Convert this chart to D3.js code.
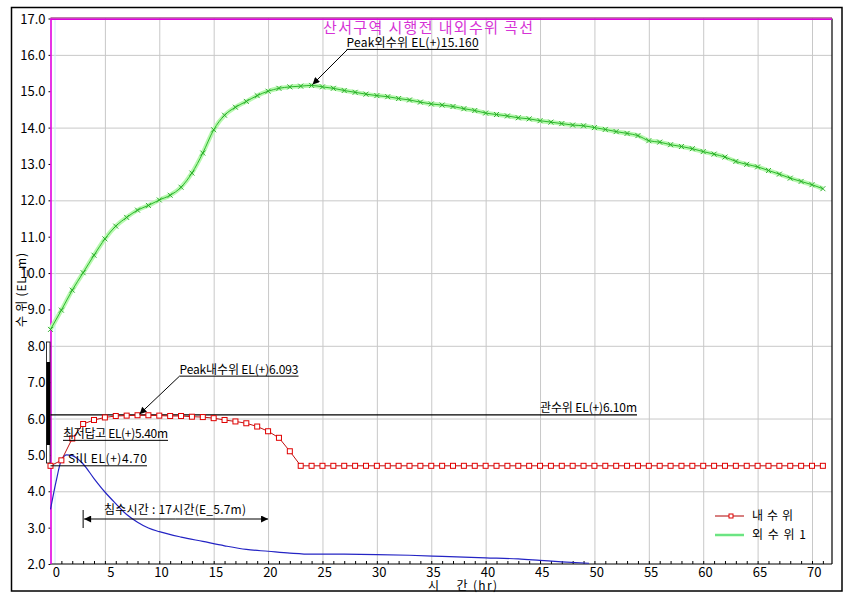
<!DOCTYPE html>
<html><head><meta charset="utf-8">
<script src="https://cdn.jsdelivr.net/npm/d3@7/dist/d3.min.js"></script>
<style>body{margin:0;background:#fff}text{font-family:"Noto Sans CJK KR","Noto Sans",sans-serif}</style>
</head><body>
<svg id="c" width="863" height="602"></svg>
<script>
// ---- data ----
const hours = [0,1,2,3,4,5,6,7,8,9,10,11,12,13,14,15,16,17,18,19,20,21,22,23,24,25,26,27,28,29,30,31,32,33,34,35,36,37,38,39,40,41,42,43,44,45,46,47,48,49,50,51,52,53,54,55,56,57,58,59,60,61,62,63,64,65,66,67,68,69,70,71];
const outerLevel = [8.45,8.98,9.53,10.01,10.49,10.94,11.29,11.53,11.73,11.86,12.01,12.14,12.36,12.75,13.30,13.94,14.34,14.56,14.72,14.88,15.00,15.08,15.12,15.14,15.16,15.12,15.08,15.02,14.97,14.92,14.88,14.85,14.80,14.76,14.70,14.65,14.62,14.58,14.52,14.47,14.40,14.36,14.32,14.27,14.24,14.19,14.15,14.11,14.07,14.05,14.00,13.95,13.89,13.84,13.78,13.64,13.60,13.53,13.48,13.42,13.34,13.27,13.19,13.07,12.99,12.92,12.82,12.72,12.61,12.52,12.43,12.32];
const innerLevel = [4.70,4.85,5.45,5.85,5.96,6.03,6.07,6.08,6.09,6.09,6.08,6.07,6.07,6.05,6.04,6.01,5.96,5.92,5.87,5.78,5.65,5.47,5.10,4.70,4.70,4.70,4.70,4.70,4.70,4.70,4.70,4.70,4.70,4.70,4.70,4.70,4.70,4.70,4.70,4.70,4.70,4.70,4.70,4.70,4.70,4.70,4.70,4.70,4.70,4.70,4.70,4.70,4.70,4.70,4.70,4.70,4.70,4.70,4.70,4.70,4.70,4.70,4.70,4.70,4.70,4.70,4.70,4.70,4.70,4.70,4.70,4.70];
const blueTime = [0,0.5,1,1.5,2,3,4,5,6,7,8,9,10,12,14,16,18,20,22,24,26,30,33,36,40,43,45,47,49.5];
const blueLevel = [3.50,4.25,4.85,5.00,4.98,4.75,4.35,3.98,3.66,3.36,3.15,2.99,2.89,2.74,2.62,2.50,2.40,2.35,2.30,2.27,2.27,2.26,2.24,2.21,2.17,2.14,2.10,2.06,2.02];
const xTickLabels = [0,5,10,15,20,25,30,35,40,45,50,55,60,65,70];
const xGrid = [5,10,15,20,25,30,35,40,45,50,55,60,65,70];
const yTickLabels = [2,3,4,5,6,7,8,9,10,11,12,13,14,15,16,17];
const yGrid = [4,6,8,10,12,14,16];
const seriesNames = ["내 수 위","외 수 위 1"];
const title = "산서구역 시행전 내외수위 곡선";
const xTitle = "시    간 (hr)";
const yTitle = "수 위 (EL_m)";
const peakOuter = {t:24, v:15.16, label:"Peak외수위 EL(+)15.160"};
const peakInner = {t:8, v:6.093, label:"Peak내수위 EL(+)6.093"};
const refLine = {v:6.10, label:"관수위 EL(+)6.10m"};
const lowField = {v:5.40, label:"최저답고 EL(+)5.40m"};
const sill = {v:4.70, label:"Sill EL(+)4.70"};
const flood = {t0:3, t1:20, label:"침수시간 : 17시간(E_5.7m)"};

// ---- chart ----
const svg = d3.select("#c");
const L=50.5, R=832, T=18.5, B=564;
const x = d3.scaleLinear().domain([0,70]).range([L,812]);
const y = d3.scaleLinear().domain([2,17]).range([B,T]);

const defs = svg.append("defs");
defs.append("marker").attr("id","ah").attr("viewBox","0 0 10 10").attr("refX",10).attr("refY",5)
  .attr("markerWidth",9).attr("markerHeight",7).attr("markerUnits","userSpaceOnUse").attr("orient","auto")
  .append("path").attr("d","M0,0L10,5L0,10z").attr("fill","#000");

svg.append("rect").attr("x",11.5).attr("y",7.5).attr("width",830.5).attr("height",583.5)
  .attr("fill","none").attr("stroke","#000").attr("stroke-width",1.5);

// grid
const gx = svg.append("g").attr("transform",`translate(0,${B})`)
  .call(d3.axisBottom(x).tickValues(xGrid).tickSize(-(B-T)).tickFormat(""));
gx.select(".domain").remove();
gx.selectAll("line").attr("stroke","#c8c8c8");
const gy = svg.append("g").attr("transform",`translate(${L},0)`)
  .call(d3.axisLeft(y).tickValues(yGrid).tickSize(-(R-L)).tickFormat(""));
gy.select(".domain").remove();
gy.selectAll("line").attr("stroke","#c8c8c8");

// minor ticks
const mt = svg.append("g").attr("transform",`translate(0,${B})`)
  .call(d3.axisTop(x).tickValues(hours.filter(h=>h>0)).tickSize(3).tickFormat(""));
mt.select(".domain").remove();
mt.selectAll("line").attr("stroke","#000");

// x labels (right-aligned just past each tick, like the original)
const xl = svg.append("g").attr("transform",`translate(9,${B})`)
  .call(d3.axisBottom(x).tickValues(xTickLabels).tickSize(0).tickPadding(4).tickFormat(d3.format("d")));
xl.select(".domain").remove();
xl.selectAll("text").attr("text-anchor","end").attr("font-size",13).attr("fill","#000").style("font-family","'Noto Sans CJK KR'");

// y labels
const yl = svg.append("g").attr("transform",`translate(${L},0)`)
  .call(d3.axisLeft(y).tickValues(yTickLabels).tickSize(2).tickPadding(3).tickFormat(d3.format(".1f")));
yl.select(".domain").remove();
yl.selectAll("line").attr("stroke","#000");
yl.selectAll("text").attr("font-size",13).attr("fill","#000").attr("dy","0.35em").style("font-family","'Noto Sans CJK KR'");

// faint cyan guide
svg.append("line").attr("x1",L+4.5).attr("x2",L+4.5).attr("y1",T).attr("y2",B).attr("stroke","#cdeefa").attr("stroke-width",1);

// plot borders
svg.append("line").attr("x1",L).attr("x2",R).attr("y1",B).attr("y2",B).attr("stroke","#000").attr("stroke-width",1.2);
svg.append("line").attr("x1",R).attr("x2",R).attr("y1",T).attr("y2",B).attr("stroke","#000").attr("stroke-width",1.2);
svg.append("line").attr("x1",L).attr("x2",R).attr("y1",T-0.5).attr("y2",T-0.5).attr("stroke","#7a0050").attr("stroke-width",1);
svg.append("line").attr("x1",L).attr("x2",R).attr("y1",T+0.7).attr("y2",T+0.7).attr("stroke","#e000e0").attr("stroke-width",1.4);
svg.append("line").attr("x1",L+0.5).attr("x2",L+0.5).attr("y1",T).attr("y2",B).attr("stroke","#e000e0").attr("stroke-width",1.6);

// black side bar
svg.append("rect").attr("x",46.5).attr("y",342).attr("width",3.5).attr("height",121).attr("fill","#fff").attr("stroke","#000").attr("stroke-width",0.8);
svg.append("rect").attr("x",46.5).attr("y",362).attr("width",3.5).attr("height",83).attr("fill","#000");

// title
svg.append("text").attr("x",323).attr("y",32.5).attr("font-size",15).attr("fill","#d633d6")
  .attr("textLength",210).attr("lengthAdjust","spacing").text(title);

// axis titles
svg.append("text").attr("transform","translate(26,327) rotate(-90)").attr("font-size",12)
  .attr("xml:space","preserve").attr("textLength",74).attr("lengthAdjust","spacing").text(yTitle);
svg.append("text").attr("x",428).attr("y",590).attr("font-size",12).attr("xml:space","preserve")
  .attr("textLength",69).attr("lengthAdjust","spacing").text(xTitle);

// reference line
const rl = y(refLine.v);
svg.append("line").attr("x1",L).attr("x2",637).attr("y1",rl).attr("y2",rl).attr("stroke","#000").attr("stroke-width",1.1);
svg.append("text").attr("x",540).attr("y",rl-3).attr("font-size",12)
  .attr("textLength",97).attr("lengthAdjust","spacing").text(refLine.label);

// blue line
svg.append("path").datum(blueTime.map((t,i)=>[t,blueLevel[i]]))
  .attr("d",d3.line().x(d=>x(d[0])).y(d=>y(d[1])).curve(d3.curveMonotoneX))
  .attr("fill","none").attr("stroke","#2424c4").attr("stroke-width",1.2);

// green line
const gdat = hours.map((t,i)=>[t,outerLevel[i]]);
const gline = d3.line().x(d=>x(d[0])).y(d=>y(d[1])).curve(d3.curveMonotoneX);
svg.append("path").datum(gdat).attr("d",gline).attr("fill","none").attr("stroke","#b8f8b0").attr("stroke-width",4.5);
svg.append("path").datum(gdat).attr("d",gline).attr("fill","none").attr("stroke","#2cb82c").attr("stroke-width",1);
svg.append("g").selectAll("path").data(gdat).join("path")
  .attr("d",d=>{const cx=x(d[0]),cy=y(d[1]);return `M${cx-2.5},${cy-2.5}L${cx+2.5},${cy+2.5}M${cx-2.5},${cy+2.5}L${cx+2.5},${cy-2.5}`;})
  .attr("stroke","#22a822").attr("stroke-width",0.9);

// red line
const rdat = hours.map((t,i)=>[t,innerLevel[i]]);
svg.append("path").datum(rdat).attr("d",d3.line().x(d=>x(d[0])).y(d=>y(d[1])))
  .attr("fill","none").attr("stroke","#c01010").attr("stroke-width",1);
svg.append("g").selectAll("rect").data(rdat).join("rect")
  .attr("x",d=>x(d[0])-2.5).attr("y",d=>y(d[1])-2.5).attr("width",5).attr("height",5)
  .attr("fill","#fff").attr("stroke","#e00000").attr("stroke-width",1);

// annotation helper
function underlined(tx, ty, txt, x0, x1){
  svg.append("text").attr("x",tx).attr("y",ty).attr("font-size",12).attr("xml:space","preserve")
    .attr("textLength",x1-x0).attr("lengthAdjust","spacing").text(txt);
  svg.append("line").attr("x1",x0).attr("x2",x1).attr("y1",ty+2.5).attr("y2",ty+2.5).attr("stroke","#000").attr("stroke-width",1);
}
// peak outer
{
  const px=x(peakOuter.t), py=y(peakOuter.v);
  underlined(px+35, py-38.5, peakOuter.label, px+35, px+167);
  svg.append("line").attr("x1",px+36).attr("y1",py-36).attr("x2",px+1).attr("y2",py-1).attr("stroke","#000").attr("marker-end","url(#ah)");
}
// peak inner
{
  const px=x(peakInner.t), py=y(peakInner.v);
  underlined(px+42, py-41.5, peakInner.label, px+42, px+161);
  svg.append("line").attr("x1",px+42).attr("y1",py-39).attr("x2",px+2).attr("y2",py-1).attr("stroke","#000").attr("marker-end","url(#ah)");
}
// low field
{
  const ly=y(lowField.v);
  underlined(63, ly-2.5, lowField.label, 63, 168);
}
// sill
{
  const sy=y(sill.v);
  svg.append("text").attr("x",68).attr("y",sy-3).attr("font-size",12)
    .attr("textLength",79).attr("lengthAdjust","spacing").text(sill.label);
  svg.append("line").attr("x1",L).attr("x2",147).attr("y1",sy).attr("y2",sy).attr("stroke","#000").attr("stroke-width",1);
}
// flood duration
{
  const fy=519, x0=x(flood.t0), x1=x(flood.t1);
  svg.append("text").attr("x",104).attr("y",514).attr("font-size",12).attr("xml:space","preserve")
    .attr("textLength",142).attr("lengthAdjust","spacing").text(flood.label);
  svg.append("line").attr("x1",x0).attr("x2",x0).attr("y1",510).attr("y2",528).attr("stroke","#000");
  svg.append("line").attr("x1",x0+(x1-x0)/2).attr("x2",x0+1).attr("y1",fy).attr("y2",fy).attr("stroke","#000").attr("marker-end","url(#ah)");
  svg.append("line").attr("x1",x0+(x1-x0)/2).attr("x2",x1).attr("y1",fy).attr("y2",fy).attr("stroke","#000").attr("marker-end","url(#ah)");
}

// legend
{
  const lg = svg.append("g");
  lg.append("line").attr("x1",715).attr("x2",744).attr("y1",516).attr("y2",516).attr("stroke","#b00000");
  lg.append("rect").attr("x",729).attr("y",514).attr("width",4).attr("height",4).attr("fill","#fff").attr("stroke","#e00000");
  lg.append("text").attr("x",752).attr("y",520).attr("font-size",12)
    .attr("textLength",41).attr("lengthAdjust","spacing").text(seriesNames[0]);
  lg.append("line").attr("x1",715).attr("x2",744).attr("y1",535).attr("y2",535).attr("stroke","#b8f8b0").attr("stroke-width",3);
  lg.append("line").attr("x1",715).attr("x2",744).attr("y1",535).attr("y2",535).attr("stroke","#1ed05a").attr("stroke-width",1);
  lg.append("text").attr("x",752).attr("y",539).attr("font-size",12)
    .attr("textLength",54).attr("lengthAdjust","spacing").text(seriesNames[1]);
}
</script>
</body></html>
